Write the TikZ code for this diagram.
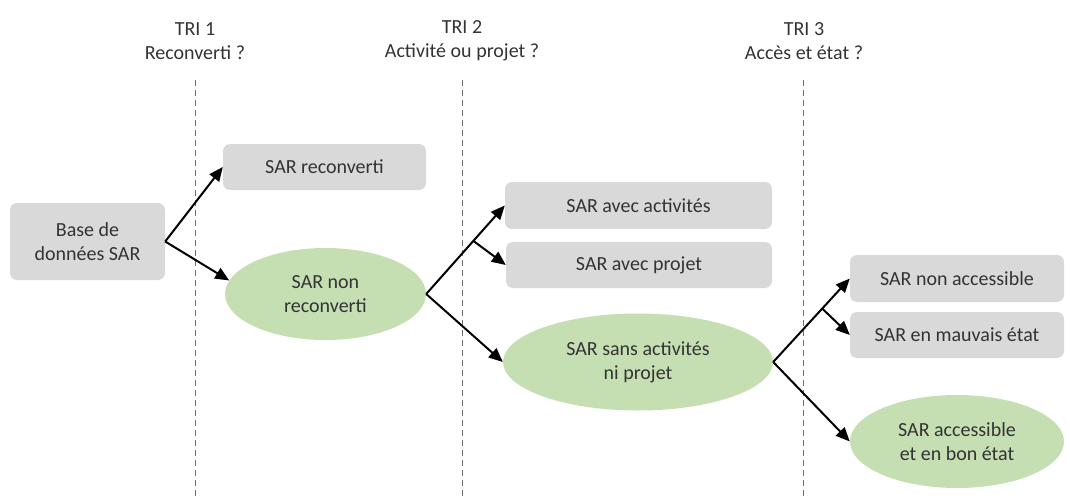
\documentclass[tikz,border=0pt]{standalone}
\usepackage{fontspec}
\setmainfont{Carlito}
\usetikzlibrary{shapes.geometric,arrows.meta,calc}

\definecolor{boxgrey}{HTML}{D9D9D9}
\definecolor{leafgreen}{HTML}{C6DFB2}
\definecolor{inkgrey}{HTML}{333333}
\definecolor{rulegrey}{HTML}{6E6E6E}

\tikzset{
  every node/.style={font=\fontsize{20}{24}\selectfont, text=inkgrey, inner sep=0pt, align=center},
  greybox/.style={rectangle, rounded corners=7pt, fill=boxgrey},
  greenoval/.style={ellipse, fill=leafgreen},
  header/.style={},
  sepline/.style={draw=rulegrey, line width=0.9pt, dash pattern=on 6pt off 4pt},
  flow/.style={draw=black, line width=2pt, -{Triangle[length=14pt,width=12pt]}},
}

\begin{document}
\begin{tikzpicture}[x=1pt, y=-1pt]
  \useasboundingbox (0,0) rectangle (1070,500);

  % column headers
  \node[header] (tri1) at (195,41) {TRI 1\\Reconverti ?};
  \node[header] (tri2) at (462,41) {TRI 2\\Activité ou projet ?};
  \node[header] (tri3) at (804,41) {TRI 3\\Accès et état ?};

  % dashed separators
  \coordinate (s1a) at (195,80);  \coordinate (s1b) at (195,500);
  \coordinate (s2a) at (462,80);  \coordinate (s2b) at (462,500);
  \coordinate (s3a) at (803,80);  \coordinate (s3b) at (803,500);
  \draw[sepline] (s1a) -- (s1b);
  \draw[sepline] (s2a) -- (s2b);
  \draw[sepline] (s3a) -- (s3b);

  % stage 1
  \node[greybox, minimum width=155pt, minimum height=77pt] (base) at (87.5,241.5) {Base de\\données SAR};
  \node[greybox, minimum width=203pt, minimum height=46pt] (rec) at (324.5,167) {SAR reconverti};
  \node[greenoval, minimum width=201pt, minimum height=92pt] (nonrec) at (325.5,294) {SAR non\\reconverti};

  % stage 2
  \node[greybox, minimum width=267pt, minimum height=47pt] (act) at (638.5,205.5) {SAR avec activités};
  \node[greybox, minimum width=266pt, minimum height=46pt] (proj) at (639,265) {SAR avec projet};
  \node[greenoval, minimum width=270pt, minimum height=97pt] (sans) at (638,362) {SAR sans activités\\ni projet};

  % stage 3
  \node[greybox, minimum width=214pt, minimum height=47pt] (nacc) at (957,278.5) {SAR non accessible};
  \node[greybox, minimum width=214pt, minimum height=46pt] (mauv) at (957,335) {SAR en mauvais état};
  \node[greenoval, minimum width=214pt, minimum height=93pt] (acc) at (957,441.5) {SAR accessible\\et en bon état};

  % branching arrows
  \draw[flow] (base.east) -- (rec.west);
  \draw[flow] (base.east) -- (nonrec.172);

  \draw[flow] (nonrec.east) -- (act.west);
  \draw[flow] ($(nonrec.east)!0.6!(act.west)$) -- (proj.west);
  \draw[flow] (nonrec.east) -- (sans.west);

  \draw[flow] (sans.east) -- (nacc.west);
  \draw[flow] ($(sans.east)!0.64!(nacc.west)$) -- (mauv.west);
  \draw[flow] (sans.east) -- (acc.west);
\end{tikzpicture}
\end{document}
